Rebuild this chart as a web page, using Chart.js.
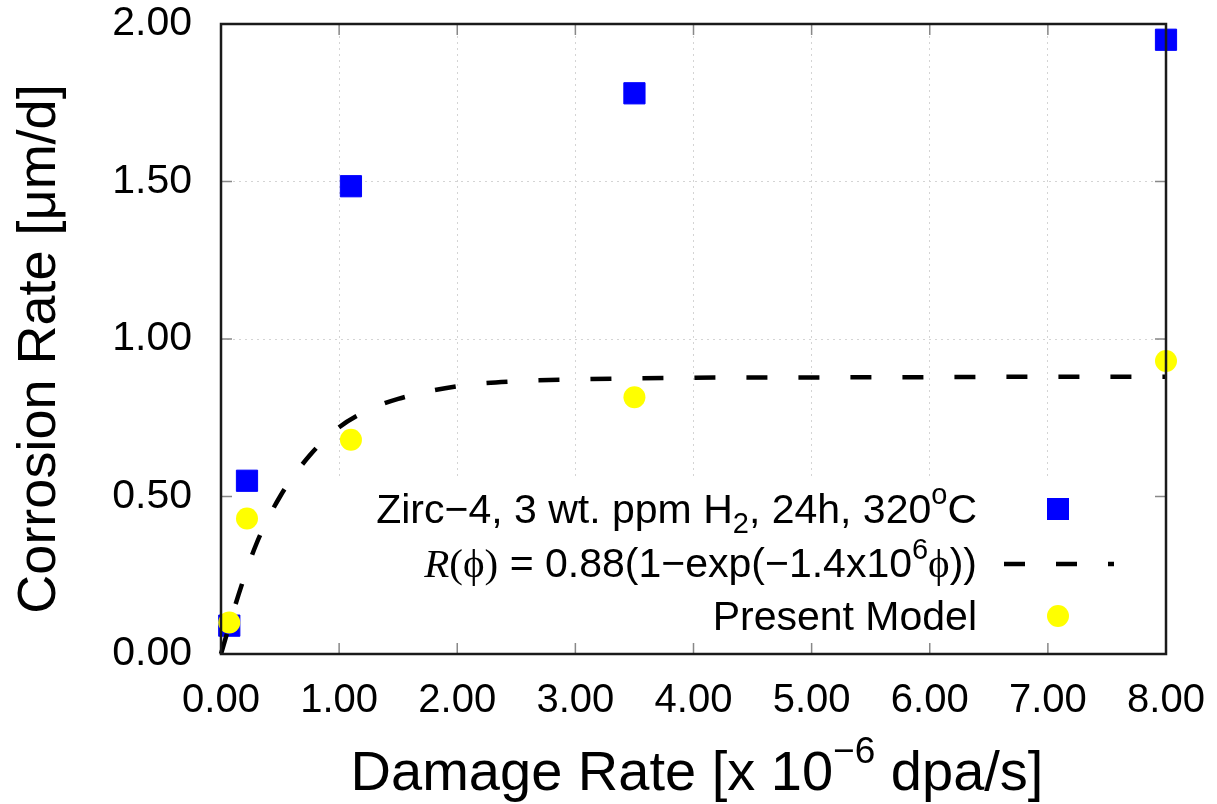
<!DOCTYPE html>
<html>
<head>
<meta charset="utf-8">
<script src="https://cdn.jsdelivr.net/npm/chart.js@4.4.1/dist/chart.umd.min.js"></script>
<style>
  html, body { margin: 0; padding: 0; background: #fff; }
  #wrap { width: 1217px; height: 804px; position: relative; }
</style>
</head>
<body>
<div id="wrap"><canvas id="chart"></canvas></div>
<script>
// data
var damageRate = [0.07, 0.22, 1.10, 3.50, 8.00];
var zircRate = [0.09, 0.55, 1.485, 1.78, 1.95];
var modelRate = [0.10, 0.43, 0.68, 0.815, 0.93];
var fitX = [0, 0.15, 0.3, 0.5, 0.75, 1.0, 1.25, 1.5, 2.0, 2.5, 3.0, 4.0, 5.0, 6.0, 7.0, 8.0];
var fitY = [0, 0.19, 0.35, 0.50, 0.63, 0.72, 0.775, 0.81, 0.85, 0.866, 0.872, 0.877, 0.878, 0.879, 0.88, 0.88];
var xTicks = [0, 1, 2, 3, 4, 5, 6, 7, 8];
var yTicks = [0, 0.5, 1.0, 1.5, 2.0];

var SANS = '"Liberation Sans", Arial, Helvetica, sans-serif';
var SERIF = '"Liberation Serif", "Times New Roman", serif';

function pairs(xs, ys) {
    return xs.map(function (x, i) { return { x: x, y: ys[i] }; });
}

// draw a line of mixed text (sub/superscripts), right aligned
function drawRich(ctx, parts, right, baseline) {
    var total = 0;
    parts.forEach(function (p) { ctx.font = p.font; p.w = ctx.measureText(p.t).width; total += p.w; });
    var x = right - total;
    ctx.textAlign = 'left';
    ctx.textBaseline = 'alphabetic';
    parts.forEach(function (p) {
        ctx.font = p.font;
        ctx.fillText(p.t, x, baseline + (p.dy || 0));
        x += p.w;
    });
    return right - total;
}

function noPad(s) {
    s.paddingTop = 0; s.paddingBottom = 0; s.paddingLeft = 0; s.paddingRight = 0;
}

var frame = {
    id: 'frame',
    beforeDatasetsDraw: function (chart) {
        // opaque key box hides the grid behind the legend
        var ctx = chart.ctx, a = chart.chartArea;
        ctx.save();
        ctx.fillStyle = '#fff';
        ctx.fillRect(a.left + 2, 480, a.right - a.left - 4, a.bottom - 480 - 2);
        ctx.restore();
    },
    afterDraw: function (chart) {
        var ctx = chart.ctx, a = chart.chartArea;
        var xs = chart.scales.x, ys = chart.scales.y;
        ctx.save();

        // inward ticks on all four sides
        ctx.strokeStyle = '#888';
        ctx.lineWidth = 1.5;
        ctx.beginPath();
        xTicks.forEach(function (v) {
            var px = xs.getPixelForValue(v);
            ctx.moveTo(px, a.bottom); ctx.lineTo(px, a.bottom - 11);
            ctx.moveTo(px, a.top); ctx.lineTo(px, a.top + 11);
        });
        yTicks.forEach(function (v) {
            var py = ys.getPixelForValue(v);
            ctx.moveTo(a.left, py); ctx.lineTo(a.left + 11, py);
            ctx.moveTo(a.right, py); ctx.lineTo(a.right - 11, py);
        });
        ctx.stroke();

        // border
        ctx.strokeStyle = '#1a1a1a';
        ctx.lineWidth = 2.5;
        ctx.strokeRect(a.left, a.top, a.right - a.left, a.bottom - a.top);

        // key
        ctx.fillStyle = '#000';
        var F = '41px ' + SANS, f = '29px ' + SANS;
        drawRich(ctx, [
            { t: 'Zirc\u22124, 3 wt. ppm H', font: F },
            { t: '2', font: f, dy: 10 },
            { t: ', 24h, 320', font: F },
            { t: 'o', font: f, dy: -19 },
            { t: 'C', font: F }
        ], 977, 523);
        drawRich(ctx, [
            { t: 'R', font: 'italic 41px ' + SERIF },
            { t: '(\u03d5)', font: '41px ' + SERIF },
            { t: ' = 0.88(1\u2212exp(\u22121.4x10', font: F },
            { t: '6', font: f, dy: -18 },
            { t: '\u03d5', font: '41px ' + SERIF },
            { t: '))', font: F }
        ], 977, 577);
        drawRich(ctx, [{ t: 'Present Model', font: F }], 977, 630);

        // key symbols
        ctx.fillStyle = '#0000ff';
        ctx.fillRect(1058 - 11, 509 - 11, 22, 22);
        ctx.strokeStyle = '#000';
        ctx.lineWidth = 4.5;
        ctx.setLineDash([21, 31]);
        ctx.beginPath();
        ctx.moveTo(1004, 564); ctx.lineTo(1114, 564);
        ctx.stroke();
        ctx.setLineDash([]);
        ctx.fillStyle = '#ffff00';
        ctx.beginPath();
        ctx.arc(1058, 616, 11, 0, Math.PI * 2);
        ctx.fill();

        // axis titles
        ctx.fillStyle = '#000';
        var xt = [
            { t: 'Damage Rate [x 10', font: '56px ' + SANS },
            { t: '\u22126', font: '37px ' + SANS, dy: -27 },
            { t: ' dpa/s]', font: '56px ' + SANS }
        ];
        var tw = 0;
        xt.forEach(function (p) { ctx.font = p.font; tw += ctx.measureText(p.t).width; });
        drawRich(ctx, xt, 697 + tw / 2, 790);

        ctx.translate(55, 349);
        ctx.rotate(-Math.PI / 2);
        ctx.font = '54px ' + SANS;
        ctx.textAlign = 'center';
        ctx.textBaseline = 'alphabetic';
        ctx.fillText('Corrosion Rate [\u03bcm/d]', 0, 0);
        ctx.restore();
    }
};

var ctx = document.getElementById('chart').getContext('2d');
new Chart(ctx, {
    type: 'scatter',
    data: {
        datasets: [{
            label: 'Zirc-4, 3 wt. ppm H2, 24h, 320oC',
            data: pairs(damageRate, zircRate),
            pointStyle: 'rect',
            pointRadius: 15,
            backgroundColor: '#0000ff',
            borderColor: '#0000ff',
            borderWidth: 1,
            clip: false,
            order: 3
        }, {
            label: 'R(phi) = 0.88(1-exp(-1.4x10^6 phi))',
            data: pairs(fitX, fitY),
            showLine: true,
            pointRadius: 0,
            borderColor: '#000',
            borderWidth: 4.5,
            borderDash: [21, 31],
            cubicInterpolationMode: 'monotone',
            clip: false,
            order: 2
        }, {
            label: 'Present Model',
            data: pairs(damageRate, modelRate),
            pointStyle: 'circle',
            pointRadius: 11,
            backgroundColor: '#ffff00',
            borderColor: '#ffff00',
            borderWidth: 0,
            clip: false,
            order: 1
        }]
    },
    options: {
        responsive: true,
        maintainAspectRatio: false,
        animation: false,
        layout: { padding: { top: 24, right: 51, left: 0, bottom: 0 } },
        plugins: {
            legend: { display: false },
            tooltip: { enabled: false }
        },
        scales: {
            x: {
                type: 'linear',
                min: 0,
                max: 8,
                afterFit: function (s) { s.height = 150; noPad(s); },
                afterBuildTicks: function (s) { s.ticks = xTicks.map(function (v) { return { value: v }; }); },
                ticks: {
                    padding: 23,
                    color: '#000',
                    font: { family: SANS, size: 40 },
                    callback: function (v) { return v.toFixed(2); }
                },
                grid: { color: '#d4d4d4', lineWidth: 1, drawTicks: false },
                border: { display: false, dash: [2, 4] }
            },
            y: {
                type: 'linear',
                min: 0,
                max: 2,
                afterFit: function (s) { s.width = 221; noPad(s); },
                afterBuildTicks: function (s) { s.ticks = yTicks.map(function (v) { return { value: v }; }); },
                ticks: {
                    padding: 29,
                    color: '#000',
                    font: { family: SANS, size: 41 },
                    callback: function (v) { return v.toFixed(2); }
                },
                grid: { color: '#d4d4d4', lineWidth: 1, drawTicks: false },
                border: { display: false, dash: [2, 4] }
            }
        }
    },
    plugins: [frame]
});
</script>
</body>
</html>
